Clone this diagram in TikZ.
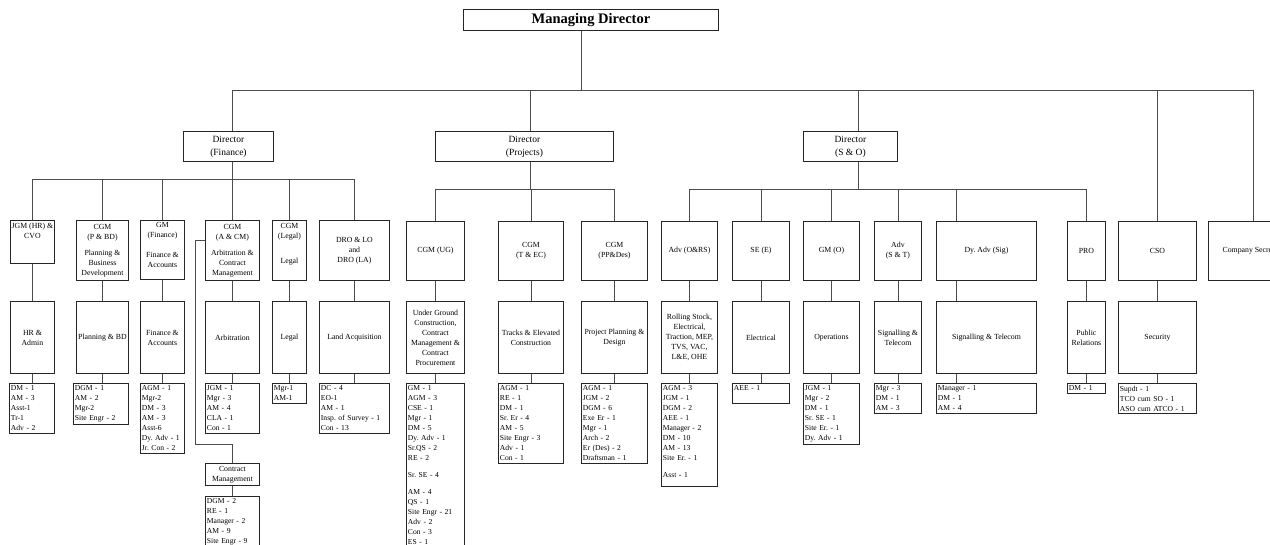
\documentclass[tikz,border=0pt]{standalone}
\usepackage{fontspec}
\setmainfont{Liberation Serif}
\begin{document}
\frenchspacing
\begin{tikzpicture}[x=1pt,y=-1pt,
  box/.style={draw=black!85, line width=0.9pt, anchor=north west, inner sep=1pt, align=center, font=\fontsize{7.8}{10}\selectfont\frenchspacing},
  dirbox/.style={box, font=\fontsize{9.5}{13}\selectfont},
  mdbox/.style={box, font=\fontsize{14.5}{16}\selectfont\bfseries},
  lstbox/.style={draw=black!85, line width=0.9pt, anchor=north west, inner xsep=1.5pt, inner ysep=2pt, align=left, font=\fontsize{7.6}{10}\selectfont\frenchspacing},
  conn/.style={draw=black!70, line width=0.8pt}]
\fill[white] (0,0) rectangle (1270,544);
\path[use as bounding box] (0,0) rectangle (1270,544);
\clip (0,0) rectangle (1270,544);

% ---------- top ----------
\node[mdbox, minimum width=255pt, minimum height=21pt] (md) at (463,9) {Managing Director};
\node[dirbox, minimum width=90pt, minimum height=30pt] (dfin) at (183,131) {Director\\(Finance)};
\node[dirbox, minimum width=178pt, minimum height=30pt] (dproj) at (435,131) {Director\\(Projects)};
\node[dirbox, minimum width=94pt, minimum height=30pt] (dso) at (803,131) {Director\\(S \& O)};

% ---------- row 1 ----------
\node[box, minimum width=44pt, minimum height=43pt] (jgm) at (10,220) {JGM (HR) \&\\CVO\\[13pt]\mbox{}};
\node[box, minimum width=52pt, minimum height=60pt] (cpbd) at (76,220) {CGM\\(P \& BD)\\[6pt]Planning \&\\Business\\Development};
\node[box, minimum width=44pt, minimum height=59pt] (gmf) at (140,220) {GM\\(Finance)\\[10pt]Finance \&\\Accounts\\[0pt]\mbox{}};
\node[box, minimum width=54pt, minimum height=60pt] (acm) at (205,220) {CGM\\(A \& CM)\\[6pt]Arbitration \&\\Contract\\Management};
\node[box, minimum width=34pt, minimum height=60pt] (cleg) at (272,220) {CGM\\(Legal)\\[15pt]Legal\\[5pt]\mbox{}};
\node[box, minimum width=70pt, minimum height=60pt] (dro) at (319,220) {DRO \& LO\\and\\DRO (LA)};
\node[box, minimum width=58pt, minimum height=59pt] (ug) at (406,221) {CGM (UG)};
\node[box, minimum width=65pt, minimum height=59pt] (tec) at (498,221) {CGM\\(T \& EC)};
\node[box, minimum width=66pt, minimum height=59pt] (ppd) at (581,221) {CGM\\(PP\&Des)};
\node[box, minimum width=56pt, minimum height=59pt] (ors) at (661,221) {Adv (O\&RS)};
\node[box, minimum width=57pt, minimum height=59pt] (se) at (732,221) {SE (E)};
\node[box, minimum width=56pt, minimum height=59pt] (gmo) at (803,221) {GM (O)};
\node[box, minimum width=47pt, minimum height=59pt] (ast) at (874,221) {Adv\\(S \& T)};
\node[box, minimum width=100pt, minimum height=59pt] (dya) at (936,221) {Dy. Adv (Sig)};
\node[box, minimum width=38pt, minimum height=59pt] (pro) at (1067,221) {PRO};
\node[box, minimum width=78pt, minimum height=59pt] (cso) at (1118,221) {CSO};
\node[box, minimum width=90pt, minimum height=59pt] (cs) at (1208,221) {Company Secretary};

% ---------- row 2 ----------
\node[box, minimum width=44pt, minimum height=72pt] (hr) at (10,301) {HR \&\\Admin};
\node[box, minimum width=52pt, minimum height=72pt] (pbd) at (76,301) {Planning \& BD};
\node[box, minimum width=44pt, minimum height=72pt] (fa) at (140,301) {Finance \&\\Accounts};
\node[box, minimum width=54pt, minimum height=72pt] (arb) at (205,301) {Arbitration};
\node[box, minimum width=34pt, minimum height=72pt] (leg) at (272,301) {Legal};
\node[box, minimum width=70pt, minimum height=72pt] (la) at (319,301) {Land Acquisition};
\node[box, minimum width=58pt, minimum height=72pt] (ugc) at (406,301) {Under Ground\\Construction,\\Contract\\Management \&\\Contract\\Procurement};
\node[box, minimum width=65pt, minimum height=72pt] (tec2) at (498,301) {Tracks \& Elevated\\Construction};
\node[box, minimum width=66pt, minimum height=72pt] (ppd2) at (581,301) {Project Planning \&\\Design};
\node[box, minimum width=56pt, minimum height=72pt] (rs) at (661,301) {Rolling Stock,\\Electrical,\\Traction, MEP,\\TVS, VAC,\\L\&E, OHE};
\node[box, minimum width=57pt, minimum height=72pt] (ele) at (732,301) {Electrical};
\node[box, minimum width=56pt, minimum height=72pt] (ops) at (803,301) {Operations};
\node[box, minimum width=47pt, minimum height=72pt] (stc) at (874,301) {Signalling \&\\Telecom};
\node[box, minimum width=100pt, minimum height=72pt] (sgt) at (936,301) {Signalling \& Telecom};
\node[box, minimum width=38pt, minimum height=72pt] (pr) at (1067,301) {Public\\Relations};
\node[box, minimum width=78pt, minimum height=72pt] (sec) at (1118,301) {Security};
\node[box, minimum width=54pt, minimum height=22pt] (cm) at (205,463) {Contract\\Management};

% ---------- staff lists ----------
\node[lstbox, minimum width=45pt, text width=42pt, minimum height=50pt] (lhr) at (9,383) {DM - 1\\AM - 3\\Asst-1\\Tr-1\\Adv - 2};
\node[lstbox, minimum width=55pt, text width=52pt, minimum height=40pt] (lpbd) at (73,383) {DGM - 1\\AM - 2\\Mgr-2\\Site Engr - 2};
\node[lstbox, minimum width=44pt, text width=41pt, minimum height=70pt] (lfa) at (140,383) {AGM - 1\\Mgr-2\\DM - 3\\AM - 3\\Asst-6\\Dy. Adv - 1\\Jr. Con - 2};
\node[lstbox, minimum width=54pt, text width=51pt, minimum height=50pt] (larb) at (205,383) {JGM - 1\\Mgr - 3\\AM - 4\\CLA - 1\\Con - 1};
\node[lstbox, minimum width=34pt, text width=31pt, minimum height=20pt] (lleg) at (272,383) {Mgr-1\\AM-1};
\node[lstbox, minimum width=70pt, text width=67pt, minimum height=50pt] (lla) at (319,383) {DC - 4\\EO-1\\AM - 1\\Insp. of Survey - 1\\Con - 13};
\node[lstbox, minimum width=54pt, text width=51pt, minimum height=70pt] (lcm) at (205,496) {DGM - 2\\RE - 1\\Manager - 2\\AM - 9\\Site Engr - 9\\\mbox{}\\\mbox{}};
\node[lstbox, minimum width=58pt, text width=55pt] (lug) at (406,383) {GM - 1\\AGM - 3\\CSE - 1\\Mgr - 1\\DM - 5\\Dy. Adv - 1\\Sr.QS - 2\\RE - 2\\[7pt]Sr. SE - 4\\[7pt]AM - 4\\QS - 1\\Site Engr - 21\\Adv - 2\\Con - 3\\ES - 1\\\mbox{}\\\mbox{}};
\node[lstbox, minimum width=65pt, text width=62pt, minimum height=80pt] (ltec) at (498,383) {AGM - 1\\RE - 1\\DM - 1\\Sr. Er - 4\\AM - 5\\Site Engr - 3\\Adv - 1\\Con - 1};
\node[lstbox, minimum width=66pt, text width=63pt, minimum height=80pt] (lppd) at (581,383) {AGM - 1\\JGM - 2\\DGM - 6\\Exe Er - 1\\Mgr - 1\\Arch - 2\\Er (Des) - 2\\Draftsman - 1};
\node[lstbox, minimum width=56pt, text width=53pt] (lrs) at (661,383) {AGM - 3\\JGM - 1\\DGM - 2\\AEE - 1\\Manager - 2\\DM - 10\\AM - 13\\Site Er. - 1\\[7pt]Asst - 1\\[-3pt]\mbox{}};
\node[lstbox, minimum width=57pt, text width=54pt, minimum height=20pt] (lel) at (732,383) {AEE - 1\\\mbox{}};
\node[lstbox, minimum width=56pt, text width=53pt, minimum height=60pt] (lop) at (803,383) {JGM - 1\\Mgr - 2\\DM - 1\\Sr. SE - 1\\Site Er. - 1\\Dy. Adv - 1};
\node[lstbox, minimum width=47pt, text width=44pt, minimum height=30pt] (lst) at (874,383) {Mgr - 3\\DM - 1\\AM - 3};
\node[lstbox, minimum width=100pt, text width=97pt, minimum height=30pt] (lsig) at (936,383) {Manager - 1\\DM - 1\\AM - 4};
\node[lstbox, minimum width=38pt, text width=35pt, minimum height=10pt] (lpr) at (1067,383) {DM - 1};
\node[lstbox, minimum width=78pt, text width=75pt, minimum height=30pt] (lsec) at (1118,383) {Supdt - 1\\TCO cum SO - 1\\ASO cum ATCO - 1};

% ---------- connectors ----------
\coordinate (xmd) at (581,90);
\coordinate (bus0) at (0,90);
\coordinate (fbus) at (0,179.5);
\coordinate (pbus) at (0,189);
\coordinate (xfin) at (232,0);
\coordinate (xproj) at (530,0);
\coordinate (xso) at (858,0);
\coordinate (xdy) at (956,0);
\coordinate (cmA) at (195,444);
\coordinate (cmy) at (0,240);

\draw[conn] (md.south -| xmd) -- (xmd);
\draw[conn] (dfin.north -| xfin) |- (cs.north |- bus0) -- (cs.north);
\draw[conn] (dproj.north -| xproj) -- (xproj |- bus0);
\draw[conn] (dso.north -| xso) -- (xso |- bus0);
\draw[conn] (cso.north) -- (cso.north |- bus0);

% finance
\draw[conn] (dfin.south -| xfin) -- (xfin |- fbus);
\draw[conn] (jgm.north) |- (dro.north |- fbus) -- (dro.north);
\foreach \n in {cpbd,gmf,acm,cleg} \draw[conn] (\n.north) -- (\n.north |- fbus);

% projects
\draw[conn] (dproj.south -| xproj) -- (xproj |- pbus);
\draw[conn] (ug.north) |- (ppd.north |- pbus) -- (ppd.north);
\draw[conn] (tec.north) -- (tec.north |- pbus);

% S & O
\draw[conn] (dso.south -| xso) -- (xso |- pbus);
\draw[conn] (ors.north) |- (pro.north |- pbus) -- (pro.north);
\foreach \n in {se,gmo,ast} \draw[conn] (\n.north) -- (\n.north |- pbus);
\draw[conn] (dya.north -| xdy) -- (xdy |- pbus);

% columns
\foreach \a/\b/\c in {jgm/hr/lhr, cpbd/pbd/lpbd, gmf/fa/lfa, acm/arb/larb, cleg/leg/lleg, dro/la/lla, ug/ugc/lug, tec/tec2/ltec, ppd/ppd2/lppd, ors/rs/lrs, se/ele/lel, gmo/ops/lop, ast/stc/lst, pro/pr/lpr, cso/sec/lsec}
{
  \draw[conn] (\a.south) -- (\b.north);
  \draw[conn] (\b.south) -- (\b.south |- \c.north);
}
\draw[conn] (dya.south -| xdy) -- (sgt.north -| xdy);
\draw[conn] (sgt.south -| xdy) -- (lsig.north -| xdy);

% contract management branch
\draw[conn] (acm.west |- cmy) -| (cmA) -| (cm.north);
\draw[conn] (cm.south) -- (cm.south |- lcm.north);
\end{tikzpicture}
\end{document}
